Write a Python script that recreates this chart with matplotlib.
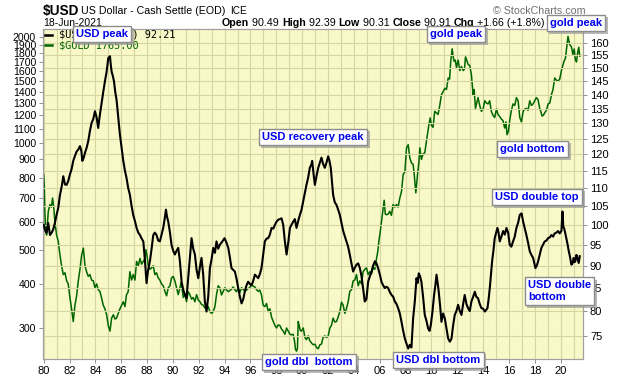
import matplotlib
matplotlib.use("Agg")
import matplotlib.pyplot as plt
import matplotlib.patheffects as pe
from matplotlib.lines import Line2D
from matplotlib.ticker import NullLocator, FixedLocator

plt.rcParams['font.family'] = ['Liberation Sans', 'DejaVu Sans']

# ---------- data (decimal years) -------------------------------------------
usd_t = [1980.00, 1980.12, 1980.23, 1980.35, 1980.49, 1980.62, 1980.74, 1980.87,
         1981.00, 1981.13, 1981.26, 1981.40, 1981.52, 1981.65, 1981.78, 1981.90,
         1982.03, 1982.16, 1982.29, 1982.42, 1982.55, 1982.68, 1982.81, 1982.92,
         1982.99, 1983.10, 1983.19, 1983.32, 1983.45, 1983.58, 1983.71, 1983.84,
         1983.97, 1984.10, 1984.22, 1984.35, 1984.48, 1984.61, 1984.74, 1984.87,
         1985.00, 1985.13, 1985.20, 1985.26, 1985.35, 1985.44, 1985.54, 1985.64,
         1985.77, 1985.90, 1986.03, 1986.16, 1986.29, 1986.41, 1986.54, 1986.67,
         1986.80, 1986.93, 1987.06, 1987.19, 1987.32, 1987.45, 1987.58, 1987.71,
         1987.84, 1987.96, 1988.08, 1988.22, 1988.35, 1988.48, 1988.60, 1988.73,
         1988.86, 1988.99, 1989.12, 1989.25, 1989.38, 1989.46, 1989.55, 1989.64,
         1989.77, 1989.89, 1990.02, 1990.15, 1990.28, 1990.41, 1990.54, 1990.67,
         1990.80, 1990.92, 1991.05, 1991.18, 1991.31, 1991.44, 1991.57, 1991.70,
         1991.83, 1991.96, 1992.08, 1992.21, 1992.34, 1992.47, 1992.60, 1992.73,
         1992.86, 1992.99, 1993.12, 1993.25, 1993.37, 1993.50, 1993.63, 1993.76,
         1993.99, 1994.14, 1994.28, 1994.40, 1994.53, 1994.66, 1994.79, 1994.92,
         1995.05, 1995.18, 1995.31, 1995.44, 1995.56, 1995.69, 1995.82, 1995.95,
         1996.08, 1996.21, 1996.34, 1996.47, 1996.60, 1996.72, 1996.85, 1996.98,
         1997.11, 1997.24, 1997.37, 1997.50, 1997.63, 1997.76, 1997.89, 1998.01,
         1998.14, 1998.27, 1998.40, 1998.53, 1998.66, 1998.79, 1998.92, 1999.05,
         1999.17, 1999.30, 1999.43, 1999.56, 1999.69, 1999.82, 1999.95, 2000.08,
         2000.21, 2000.33, 2000.46, 2000.59, 2000.72, 2000.77, 2000.88, 2000.98,
         2001.11, 2001.24, 2001.37, 2001.49, 2001.62, 2001.75, 2001.88, 2002.01,
         2002.11, 2002.21, 2002.30, 2002.39, 2002.52, 2002.65, 2002.78, 2002.91,
         2003.04, 2003.17, 2003.30, 2003.42, 2003.55, 2003.68, 2003.81, 2003.94,
         2004.07, 2004.20, 2004.33, 2004.46, 2004.59, 2004.71, 2004.84, 2004.97,
         2005.10, 2005.23, 2005.36, 2005.49, 2005.62, 2005.75, 2005.87, 2006.00,
         2006.13, 2006.26, 2006.39, 2006.52, 2006.65, 2006.78, 2006.91, 2007.04,
         2007.16, 2007.29, 2007.42, 2007.55, 2007.68, 2007.81, 2007.94, 2008.07,
         2008.20, 2008.32, 2008.45, 2008.58, 2008.71, 2008.84, 2008.92, 2009.02,
         2009.12, 2009.22, 2009.35, 2009.48, 2009.61, 2009.74, 2009.85, 2009.95,
         2010.08, 2010.20, 2010.30, 2010.39, 2010.48, 2010.56, 2010.67, 2010.77,
         2010.90, 2011.03, 2011.16, 2011.29, 2011.42, 2011.55, 2011.67, 2011.80,
         2011.93, 2012.06, 2012.19, 2012.32, 2012.45, 2012.57, 2012.70, 2012.83,
         2012.96, 2013.09, 2013.22, 2013.35, 2013.47, 2013.60, 2013.73, 2013.86,
         2013.99, 2014.12, 2014.22, 2014.33, 2014.42, 2014.51, 2014.60, 2014.69,
         2014.79, 2014.89, 2015.00, 2015.10, 2015.19, 2015.28, 2015.41, 2015.54,
         2015.67, 2015.80, 2015.93, 2016.05, 2016.18, 2016.31, 2016.44, 2016.57,
         2016.70, 2016.83, 2016.97, 2017.09, 2017.22, 2017.34, 2017.47, 2017.60,
         2017.73, 2017.86, 2018.04, 2018.15, 2018.25, 2018.37, 2018.50, 2018.63,
         2018.76, 2018.89, 2019.02, 2019.15, 2019.28, 2019.41, 2019.53, 2019.66,
         2019.79, 2019.92, 2020.05, 2020.13, 2020.20, 2020.25, 2020.34, 2020.43,
         2020.53, 2020.62, 2020.72, 2020.82, 2020.91, 2021.00, 2021.07, 2021.13,
         2021.21, 2021.29, 2021.39, 2021.47]
usd_v = [100.0, 98.5, 98.0, 100.5, 97.4, 98.0, 98.8, 100.5,
         102.6, 104.5, 108.0, 110.5, 113.4, 111.0, 110.9, 112.0,
         113.9, 115.5, 118.0, 119.5, 120.9, 121.5, 122.6, 121.0,
         118.0, 119.0, 120.4, 122.0, 124.2, 127.5, 130.2, 131.5,
         134.2, 132.0, 128.5, 133.0, 137.0, 141.0, 145.0, 148.6,
         154.0, 154.7, 151.0, 148.6, 147.0, 145.0, 141.0, 138.2,
         132.0, 126.3, 122.0, 118.0, 115.0, 112.9, 110.0, 108.1,
         105.0, 102.6, 101.0, 99.2, 98.0, 97.4, 96.5, 95.8,
         91.0, 86.0, 89.0, 91.0, 94.0, 97.4, 98.0, 97.4,
         96.0, 95.8, 97.5, 99.2, 102.0, 104.0, 102.0, 100.8,
         98.0, 95.0, 93.5, 92.6, 93.5, 94.2, 91.0, 86.3,
         84.5, 83.5, 82.7, 87.1, 92.0, 96.6, 94.0, 92.6,
         89.0, 87.1, 89.5, 91.8, 88.0, 82.0, 79.9, 83.0,
         89.4, 91.5, 94.2, 93.0, 95.8, 94.0, 95.0, 95.5,
         96.6, 95.5, 94.2, 92.0, 89.4, 89.0, 88.6, 87.0,
         84.9, 83.0, 81.6, 82.5, 84.1, 85.5, 86.3, 85.8,
         85.5, 86.5, 87.9, 87.5, 87.1, 88.0, 89.4, 92.5,
         95.8, 96.5, 96.6, 97.5, 99.2, 99.0, 100.0, 100.8,
         101.3, 101.5, 101.7, 100.0, 95.8, 92.6, 95.5, 99.2,
         100.0, 100.8, 101.5, 99.2, 101.0, 102.6, 104.0, 106.3,
         108.5, 110.9, 113.0, 115.9, 117.0, 118.0, 114.0, 110.9,
         113.5, 115.9, 117.5, 119.0, 117.0, 115.9, 117.5, 119.4,
         118.0, 115.9, 112.0, 108.1, 106.0, 105.3, 104.0, 102.6,
         100.5, 98.4, 97.0, 95.8, 94.5, 92.6, 90.5, 88.6,
         89.5, 90.2, 90.5, 89.4, 87.5, 84.9, 82.0, 82.5,
         86.3, 87.5, 88.6, 90.0, 91.0, 90.5, 89.4, 88.0,
         86.3, 85.5, 84.9, 85.2, 84.9, 84.0, 83.4, 83.0,
         82.0, 81.5, 80.6, 79.5, 77.8, 76.0, 74.5, 73.5,
         72.6, 73.3, 72.8, 78.5, 82.0, 87.1, 86.0, 88.2,
         87.5, 86.3, 83.0, 79.2, 78.0, 76.5, 76.0, 77.2,
         80.0, 83.4, 85.5, 87.9, 86.0, 84.1, 81.0, 77.8,
         79.5, 78.5, 76.5, 74.5, 73.9, 74.5, 77.0, 79.2,
         80.0, 81.3, 80.0, 79.2, 81.5, 83.4, 81.5, 80.6,
         80.0, 82.0, 83.0, 84.1, 83.0, 82.7, 81.5, 80.6,
         80.5, 79.9, 80.2, 80.6, 82.5, 84.9, 88.0, 91.0,
         93.5, 96.6, 98.0, 99.2, 98.0, 95.8, 97.0, 98.4,
         97.5, 99.2, 98.0, 95.0, 94.5, 95.8, 97.0, 99.2,
         100.5, 102.6, 103.0, 100.8, 99.0, 97.4, 95.5, 93.4,
         92.5, 91.8, 89.4, 90.0, 91.0, 92.5, 94.2, 95.0,
         95.8, 96.0, 96.6, 96.8, 97.4, 97.0, 97.8, 98.0,
         98.4, 97.8, 98.4, 103.5, 99.5, 99.2, 98.0, 96.6,
         95.0, 93.4, 92.0, 90.2, 90.5, 91.8, 90.8, 91.0,
         92.5, 91.8, 90.6, 92.2]

gold_t = [1980.00, 1980.05, 1980.10, 1980.17, 1980.23, 1980.30, 1980.36, 1980.49,
          1980.60, 1980.69, 1980.78, 1980.87, 1981.00, 1981.13, 1981.26, 1981.39,
          1981.52, 1981.65, 1981.78, 1981.90, 1982.03, 1982.16, 1982.29, 1982.42,
          1982.55, 1982.68, 1982.81, 1982.94, 1983.07, 1983.20, 1983.32, 1983.45,
          1983.58, 1983.71, 1983.84, 1983.97, 1984.10, 1984.22, 1984.35, 1984.48,
          1984.61, 1984.74, 1984.87, 1985.00, 1985.13, 1985.26, 1985.39, 1985.52,
          1985.64, 1985.77, 1985.90, 1986.03, 1986.16, 1986.29, 1986.41, 1986.54,
          1986.67, 1986.80, 1986.93, 1987.06, 1987.19, 1987.32, 1987.45, 1987.58,
          1987.71, 1987.82, 1987.91, 1988.00, 1988.08, 1988.22, 1988.35, 1988.48,
          1988.60, 1988.73, 1988.86, 1988.99, 1989.12, 1989.25, 1989.38, 1989.51,
          1989.64, 1989.77, 1989.89, 1990.02, 1990.15, 1990.28, 1990.41, 1990.54,
          1990.64, 1990.80, 1990.92, 1991.05, 1991.18, 1991.31, 1991.44, 1991.57,
          1991.70, 1991.83, 1991.96, 1992.09, 1992.21, 1992.34, 1992.47, 1992.60,
          1992.73, 1992.86, 1992.99, 1993.12, 1993.25, 1993.37, 1993.50, 1993.63,
          1993.76, 1993.89, 1994.02, 1994.14, 1994.28, 1994.40, 1994.53, 1994.66,
          1994.79, 1994.92, 1995.05, 1995.18, 1995.31, 1995.44, 1995.56, 1995.69,
          1995.82, 1995.95, 1996.08, 1996.21, 1996.34, 1996.47, 1996.60, 1996.72,
          1996.85, 1996.98, 1997.11, 1997.24, 1997.37, 1997.50, 1997.63, 1997.76,
          1997.89, 1998.01, 1998.14, 1998.27, 1998.40, 1998.53, 1998.66, 1998.79,
          1998.92, 1999.05, 1999.17, 1999.30, 1999.41, 1999.48, 1999.56, 1999.63,
          1999.69, 1999.77, 1999.85, 1999.95, 2000.08, 2000.21, 2000.33, 2000.46,
          2000.59, 2000.72, 2000.85, 2000.98, 2001.11, 2001.24, 2001.37, 2001.49,
          2001.62, 2001.75, 2001.88, 2002.01, 2002.14, 2002.26, 2002.39, 2002.52,
          2002.65, 2002.78, 2002.91, 2003.04, 2003.17, 2003.30, 2003.42, 2003.55,
          2003.68, 2003.81, 2003.94, 2004.07, 2004.20, 2004.33, 2004.46, 2004.59,
          2004.71, 2004.84, 2004.97, 2005.10, 2005.23, 2005.36, 2005.49, 2005.62,
          2005.75, 2005.85, 2005.93, 2006.03, 2006.13, 2006.25, 2006.34, 2006.43,
          2006.52, 2006.65, 2006.77, 2006.90, 2007.03, 2007.16, 2007.29, 2007.42,
          2007.55, 2007.68, 2007.81, 2007.94, 2008.07, 2008.20, 2008.32, 2008.45,
          2008.58, 2008.66, 2008.79, 2008.92, 2009.02, 2009.10, 2009.22, 2009.35,
          2009.48, 2009.61, 2009.70, 2009.79, 2009.90, 2010.00, 2010.12, 2010.25,
          2010.38, 2010.51, 2010.64, 2010.77, 2010.90, 2011.03, 2011.16, 2011.29,
          2011.40, 2011.49, 2011.60, 2011.68, 2011.75, 2011.84, 2011.93, 2012.06,
          2012.19, 2012.32, 2012.45, 2012.55, 2012.63, 2012.73, 2012.83, 2012.96,
          2013.09, 2013.22, 2013.30, 2013.40, 2013.50, 2013.60, 2013.73, 2013.86,
          2013.99, 2014.12, 2014.25, 2014.38, 2014.50, 2014.63, 2014.76, 2014.89,
          2015.02, 2015.15, 2015.28, 2015.40, 2015.53, 2015.66, 2015.76, 2015.84,
          2015.95, 2016.05, 2016.18, 2016.31, 2016.44, 2016.57, 2016.70, 2016.83,
          2016.96, 2017.09, 2017.22, 2017.34, 2017.47, 2017.60, 2017.73, 2017.86,
          2017.99, 2018.11, 2018.24, 2018.37, 2018.46, 2018.55, 2018.65, 2018.76,
          2018.89, 2019.02, 2019.15, 2019.28, 2019.40, 2019.53, 2019.66, 2019.79,
          2019.92, 2020.05, 2020.16, 2020.25, 2020.36, 2020.48, 2020.56, 2020.69,
          2020.82, 2020.94, 2021.04, 2021.13, 2021.22, 2021.30, 2021.39, 2021.47]
gold_v = [816, 760, 628, 560, 550, 600, 642, 671,
          660, 700, 660, 598, 550, 528, 483, 450,
          425, 430, 408, 400, 366, 340, 313, 348,
          370, 408, 440, 483, 505, 450, 433, 420,
          425, 410, 408, 390, 400, 385, 381, 365,
          348, 340, 327, 305, 294, 320, 327, 318,
          320, 330, 340, 348, 356, 345, 373, 380,
          433, 410, 425, 410, 463, 450, 472, 455,
          463, 470, 500, 480, 453, 440, 444, 450,
          425, 430, 416, 410, 400, 395, 381, 370,
          390, 395, 416, 420, 408, 390, 373, 390,
          405, 366, 375, 356, 380, 373, 362, 366,
          356, 373, 360, 356, 350, 348, 342, 340,
          345, 334, 330, 334, 345, 373, 395, 390,
          372, 381, 390, 385, 380, 383, 386, 392,
          385, 380, 390, 378, 390, 386, 381, 384,
          388, 390, 400, 394, 392, 385, 381, 384,
          372, 348, 345, 352, 334, 340, 322, 313,
          305, 300, 306, 305, 298, 294, 288, 300,
          294, 288, 287, 288, 275, 261, 258, 262,
          313, 305, 295, 294, 300, 282, 278, 285,
          276, 272, 269, 270, 264, 262, 269, 270,
          282, 285, 282, 285, 300, 305, 320, 312,
          313, 322, 334, 355, 348, 330, 340, 355,
          381, 385, 408, 410, 425, 395, 408, 400,
          433, 440, 444, 425, 433, 427, 444, 440,
          472, 495, 528, 560, 598, 650, 690, 630,
          628, 630, 642, 625, 671, 660, 671, 660,
          700, 730, 816, 830, 971, 991, 910, 880,
          872, 820, 724, 816, 880, 971, 900, 933,
          940, 1012, 1060, 1124, 1180, 1124, 1110, 1232,
          1220, 1207, 1280, 1373, 1400, 1432, 1420, 1531,
          1520, 1707, 1852, 1760, 1707, 1720, 1640, 1720,
          1607, 1650, 1607, 1620, 1757, 1720, 1673, 1660,
          1562, 1373, 1420, 1256, 1300, 1347, 1280, 1232,
          1250, 1320, 1300, 1293, 1320, 1232, 1200, 1183,
          1250, 1207, 1190, 1172, 1160, 1105, 1150, 1058,
          1080, 1160, 1240, 1293, 1280, 1347, 1320, 1183,
          1150, 1232, 1250, 1256, 1240, 1320, 1280, 1293,
          1320, 1347, 1330, 1256, 1230, 1195, 1200, 1220,
          1240, 1293, 1300, 1373, 1420, 1531, 1510, 1500,
          1520, 1607, 1660, 1707, 1740, 1900, 2008, 1902,
          1880, 1785, 1850, 1722, 1700, 1800, 1870, 1765]

year_ticks = list(range(1980, 2021, 2))
year_grid = list(range(1980, 2022))
gold_ticks = [300, 400, 500, 600, 700, 800, 900, 1000, 1100, 1200, 1300,
              1400, 1500, 1600, 1700, 1800, 1900, 2000]
usd_ticks = list(range(75, 161, 5))

notes = [  # text, left px, center px
    ("USD peak", 76, 34),
    ("gold peak", 430, 34),
    ("gold peak", 550, 23),
    ("USD recovery peak", 262, 137),
    ("gold bottom", 500, 149),
    ("USD double top", 495, 197),
    ("USD double\nbottom", 528, 291),
    ("gold dbl  bottom", 265, 362),
    ("USD dbl bottom", 396, 360),
]

BG = "#F8F8C8"
GRID = "#D6D6A2"
EDGE = "#A0A0A0"
W, H = 620, 376


def fx(x):
    return x / W


def fy(y):
    return 1 - y / H


fig = plt.figure(figsize=(6.2, 3.76), dpi=100)
ax = fig.add_axes([fx(43), fy(359), (583 - 43) / W, (359 - 29) / H])
ax.set_facecolor(BG)
ax.set_yscale("log")
ax.set_ylim(245.1, 2107)
ax.set_xlim(1979.95, 2021.72)

ax2 = ax.twinx()
ax2.set_yscale("log")
ax2.set_ylim(70.66, 166.0)

# gold on the left scale, USD on the right scale
ax.plot(gold_t, gold_v, color="#006600", lw=1.1, zorder=3)
ax2.plot(usd_t, usd_v, color="black", lw=1.5, zorder=3)

# ticks
ax.set_xticks(year_ticks)
ax.set_xticklabels([f"{y % 100:02d}" for y in year_ticks])
ax.xaxis.set_minor_locator(FixedLocator(year_grid))
ax.set_yticks(gold_ticks)
ax.set_yticklabels([str(v) for v in gold_ticks])
ax.yaxis.set_minor_locator(NullLocator())
ax2.set_yticks(usd_ticks)
ax2.set_yticklabels([str(v) for v in usd_ticks])
ax2.yaxis.set_minor_locator(NullLocator())

for a in (ax, ax2):
    a.tick_params(axis="both", which="both", length=3, width=0.6, color="#808080",
                  labelsize=8, pad=2)
    for s in a.spines.values():
        s.set_color(EDGE)
        s.set_linewidth(0.8)
ax.tick_params(axis="y", labelsize=7.6)
ax.tick_params(axis="x", which="minor", length=0)

ax.grid(axis="x", which="both", color=GRID, lw=0.8, zorder=0)
ax2.grid(axis="y", which="major", color=GRID, lw=0.8, zorder=0)
ax.set_axisbelow(True)
ax2.set_axisbelow(True)

# ---------- header -----------------------------------------------------------
fig.text(fx(43), fy(15.5), "$USD", fontsize=9.8, fontweight="bold", va="baseline")
fig.text(fx(81), fy(14), "US Dollar - Cash Settle (EOD)", fontsize=7.7, va="baseline")
fig.text(fx(230), fy(14), "ICE", fontsize=7.2, va="baseline")
fig.text(fx(493), fy(10.5), "\u00a9 StockCharts.com", fontsize=7.7, va="center",
         color="#707070")
fig.text(fx(43), fy(22.7), "18-Jun-2021", fontsize=7.5, va="center")

pieces = [("Open", "bold"), (" 90.49 ", "normal"), ("High", "bold"),
          (" 92.39 ", "normal"), ("Low", "bold"), (" 90.31 ", "normal"),
          ("Close", "bold"), (" 90.91 ", "normal"), ("Chg", "bold"),
          (" +1.66 (+1.8%)", "normal")]
prev = fig.text(fx(222), fy(27.5), pieces[0][0], fontsize=7.7,
                fontweight=pieces[0][1], va="bottom")
for s, w in pieces[1:]:
    prev = ax.annotate(s, xy=(1, 0), xycoords=prev, va="bottom", ha="left",
                       fontsize=7.7, fontweight=w, annotation_clip=False)

# legend lines
fig.add_artist(Line2D([fx(45.5), fx(52.5)], [fy(35), fy(35)], color="black", lw=1.8))
fig.add_artist(Line2D([fx(45.5), fx(52.5)], [fy(45), fy(45)], color="#006600", lw=1.8))
fig.text(fx(59), fy(35), "$USD (Weekly) 92.21", fontsize=7.4, va="center",
         family="DejaVu Sans Mono")
fig.text(fx(59), fy(45), "$GOLD 1765.00", fontsize=7.4, va="center",
         family="DejaVu Sans Mono", color="#006600")

# ---------- annotation boxes ------------------------------------------------
for s, x, y in notes:
    t = fig.text(fx(x), fy(y), s, fontsize=8, fontweight="bold", color="#0000EE",
                 va="center", ha="left", linespacing=1.15,
                 bbox=dict(boxstyle="square,pad=0.3", fc="white", ec="#8C8C8C", lw=1))
    t.get_bbox_patch().set_path_effects(
        [pe.withSimplePatchShadow(offset=(2, -2), shadow_rgbFace="#9A9A9A", alpha=0.7)])

fig.savefig("out.png", dpi=100)
